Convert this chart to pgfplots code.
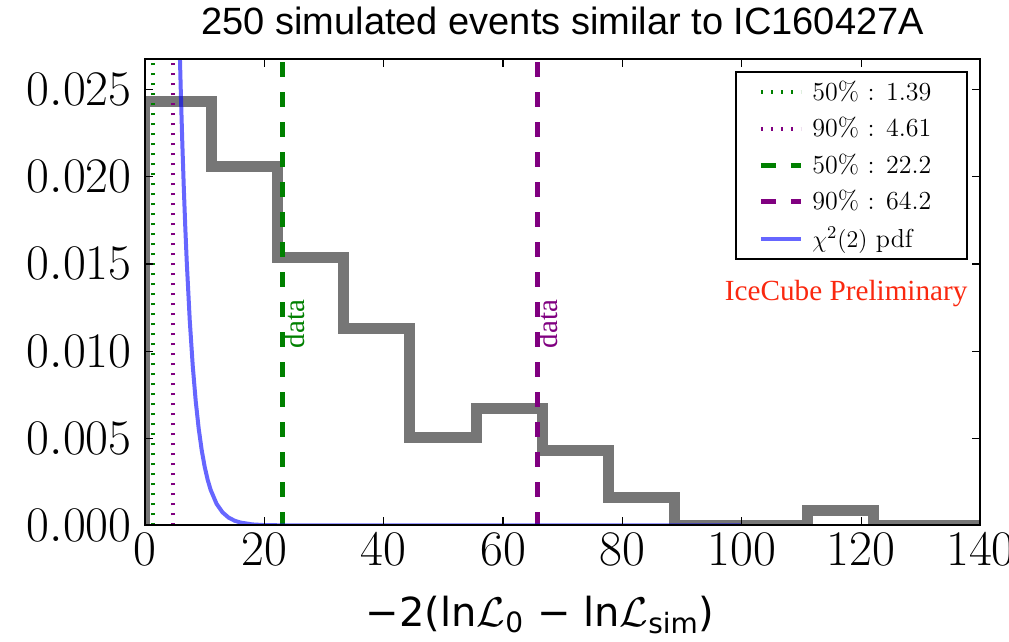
\documentclass[border=0pt]{standalone}
\usepackage{fontspec}
\usepackage{pgfplots}
\pgfplotsset{compat=1.18}
\newfontfamily\titlefont{Liberation Sans}
\newfontfamily\labelfont{DejaVu Sans}
\newfontfamily\timesfont{Liberation Serif}
\definecolor{histgray}{RGB}{118,118,118}
\definecolor{mplgreen}{RGB}{0,128,0}
\definecolor{mplpurple}{RGB}{128,0,128}
\definecolor{icered}{RGB}{250,40,15}
\newcommand{\legtext}[1]{\makebox[64.5pt][l]{#1}}

\begin{document}
\begin{tikzpicture}
\begin{axis}[
  at={(0pt,0pt)}, anchor=south west,
  scale only axis, width=417.75pt, height=233.25pt,
  xmin=0, xmax=140, ymin=0, ymax=0.02675,
  axis on top,
  axis line style={line width=1pt},
  tick style={black, line width=0.6pt},
  major tick length=4pt,
  tick align=inside,
  xtick pos=both, ytick pos=both,
  xtick={0,20,40,60,80,100,120,140},
  ytick={0,0.005,0.01,0.015,0.02,0.025},
  scaled y ticks=false,
  yticklabel style={/pgf/number format/fixed, /pgf/number format/fixed zerofill, /pgf/number format/precision=3},
  tick label style={font=\fontsize{23.5}{26}\selectfont},
  xticklabel style={inner sep=0pt, anchor=north, yshift=-4pt},
  yticklabel style={inner sep=0pt, anchor=east, xshift=-6.5pt},
  title={250 simulated events similar to IC160427A},
  title style={font=\titlefont\fontsize{19}{22}\selectfont, at={(0.5,1)}, anchor=base, yshift=6pt, inner sep=0pt},
  xlabel={−2(ln$\mathcal{L}$\textsubscript{0} − ln$\mathcal{L}$\textsubscript{sim})},
  xlabel style={font=\labelfont\fontsize{20}{24}\selectfont, at={(0.473,0)}, anchor=base, yshift=-50.5pt, inner sep=0pt},
  legend style={at={(1,1)}, anchor=north east, xshift=-6pt, yshift=-6pt,
    draw=black, line width=1pt, font=\fontsize{13}{15}\selectfont,
    row sep=3pt, column sep=2.5pt, inner xsep=11pt, inner ysep=2.5pt, cells={anchor=west}},
  legend image code/.code={\draw[#1] (0pt,0pt) -- (20pt,0pt);},
]
% histogram of the simulated events (density)
\addplot[const plot, histgray, line width=5.5pt, forget plot] coordinates {
  (0,0) (0,0.02431) (11.1,0.02057) (22.2,0.01534) (33.3,0.01132)
  (44.4,0.00505) (55.5,0.00673) (66.6,0.00428) (77.7,0.00158)
  (88.8,0) (99.9,0) (111.0,0.00084) (122.1,0) (133.2,0) (144.3,0)};
\addplot[mplgreen, line width=2pt, dash pattern=on 1pt off 4pt] coordinates {(1.39,0) (1.39,0.03)};
\addlegendentry{\legtext{50\% : 1.39}}
\addplot[mplpurple, line width=2pt, dash pattern=on 1pt off 4pt] coordinates {(4.61,0) (4.61,0.03)};
\addlegendentry{\legtext{90\% : 4.61}}
\addplot[mplgreen, line width=2.5pt, dash pattern=on 7.5pt off 7.5pt] coordinates {(22.96,0.03) (22.96,0)};
\addlegendentry{\legtext{50\% : 22.2}}
\addplot[mplpurple, line width=2.5pt, dash pattern=on 7.5pt off 7.5pt] coordinates {(65.8,0.03) (65.8,0)};
\addlegendentry{\legtext{90\% : 64.2}}
\addplot[blue, opacity=0.6, line width=2pt] coordinates {
  (0,0.5) (2,0.18394) (4,0.067668) (5,0.041042) (5.5,0.031968) (5.8,0.027512)
  (6,0.024894) (6.25,0.021968) (6.5,0.019387) (6.75,0.017109) (7,0.015099)
  (7.5,0.011759) (8,0.009158) (8.5,0.007132) (9,0.005554) (9.5,0.004326)
  (10,0.003369) (10.5,0.002624) (11,0.002043) (12,0.001239) (13,0.000752)
  (14,0.000456) (15,0.000277) (16,0.000168) (18,0.0000617) (20,0.0000227)
  (25,0.0000019) (30,0) (40,0) (100,0)};
\addlegendentry{\legtext{$\chi^2(2)$ pdf}}
\node[rotate=90, font=\timesfont\fontsize{14.5}{16}\selectfont, text=mplgreen] at (axis cs:25.1,0.01155) {data};
\node[rotate=90, font=\timesfont\fontsize{14.5}{16}\selectfont, text=mplpurple] at (axis cs:67.4,0.01155) {data};
\node[font=\timesfont\fontsize{14.6}{17}\selectfont, text=icered] at (axis cs:117.5,0.01333) {IceCube Preliminary};
\end{axis}
\pgfresetboundingbox
\path[use as bounding box] (-72.5pt,-58.25pt) rectangle (432pt,262.75pt);
\end{tikzpicture}
\end{document}
